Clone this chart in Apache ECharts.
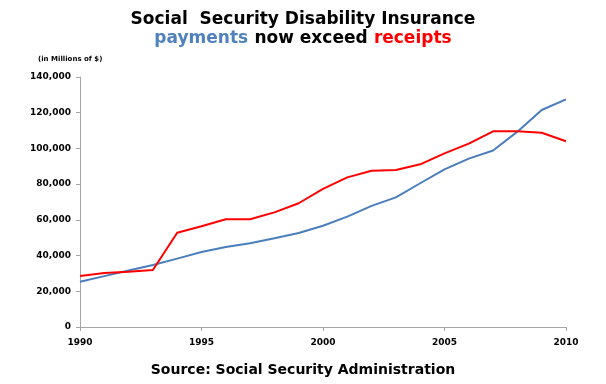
<!DOCTYPE html>
<html>
<head>
<meta charset="utf-8">
<script src="https://cdn.jsdelivr.net/npm/echarts@6/dist/echarts.min.js"></script>
<style>html,body{margin:0;padding:0;background:#fff}#c{width:606px;height:384px}</style>
</head>
<body>
<div id="c"></div>
<script>
var years = [1990,1991,1992,1993,1994,1995,1996,1997,1998,1999,2000,2001,2002,2003,2004,2005,2006,2007,2008,2009,2010];
var payments = [25300,28500,31600,34700,38300,42000,44800,46900,49700,52600,56700,61800,67800,72600,80500,88300,94300,98800,109400,121500,127500];
var receipts = [28600,30200,31000,31900,52800,56400,60300,60300,64200,69300,77300,83800,87500,87900,91100,97200,102700,109600,109600,108800,104000];
var xTicks = [1990,1995,2000,2005,2010];

function pairs(v){ return years.map(function(y,i){ return [y, v[i]]; }); }

var chart = echarts.init(document.getElementById('c'));
var f = '"DejaVu Sans", Verdana, sans-serif';
chart.setOption({
  animation: false,
  textStyle: { fontFamily: f },
  title: [
    { text: 'Social  Security Disability Insurance', left: 'center', top: 6,
      textStyle: { fontSize: 17, fontWeight: 'bold', color: '#000', fontFamily: f } },
    { text: '{b|payments} {k|now exceed} {r|receipts}', left: 'center', top: 25,
      textStyle: { rich: {
        b: { fontSize: 17, fontWeight: 'bold', color: '#4f81bd', fontFamily: f },
        k: { fontSize: 17, fontWeight: 'bold', color: '#000', fontFamily: f },
        r: { fontSize: 17, fontWeight: 'bold', color: '#ff0000', fontFamily: f }
      } } },
    { text: '(in Millions of $)', left: 33, top: 51,
      textStyle: { fontSize: 7, fontWeight: 'bold', color: '#000', fontFamily: f } },
    { text: 'Source: Social Security Administration', left: 'center', top: 358,
      textStyle: { fontSize: 14, fontWeight: 'bold', color: '#000', fontFamily: f } }
  ],
  grid: { left: 80, right: 40, top: 77, bottom: 57, containLabel: false },
  xAxis: {
    type: 'value', min: 1990, max: 2010, interval: 5,
    axisLine: { lineStyle: { color: '#a6a6a6', width: 1 } },
    axisTick: { show: true, length: 4, inside: false, lineStyle: { color: '#a6a6a6' } },
    splitLine: { show: false },
    axisLabel: { color: '#000', fontSize: 9, fontWeight: 'bold', margin: 11,
      formatter: function(v){ return xTicks.indexOf(v) >= 0 ? String(v) : ''; } }
  },
  yAxis: {
    type: 'value', min: 0, max: 140000, interval: 20000,
    axisLine: { show: true, lineStyle: { color: '#a6a6a6', width: 1 } },
    axisTick: { show: true, length: 4, lineStyle: { color: '#a6a6a6' } },
    splitLine: { show: false },
    axisLabel: { color: '#000', fontSize: 9, fontWeight: 'bold', margin: 9,
      formatter: function(v){ return v.toLocaleString('en-US'); } }
  },
  series: [
    { name: 'payments', type: 'line', data: pairs(payments), showSymbol: false,
      lineStyle: { color: '#4a7ebb', width: 2 }, itemStyle: { color: '#4a7ebb' } },
    { name: 'receipts', type: 'line', data: pairs(receipts), showSymbol: false,
      lineStyle: { color: '#ff0000', width: 2 }, itemStyle: { color: '#ff0000' } }
  ]
});
</script>
</body>
</html>
